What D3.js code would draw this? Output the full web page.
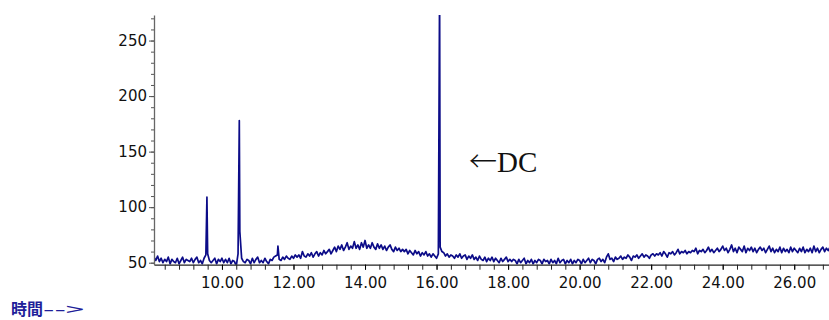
<!DOCTYPE html>
<html>
  <head>
    <meta charset="utf-8">
    <script src="https://d3js.org/d3.v7.min.js"></script>
    <style>
      body { margin: 0; background: #fff; }
      .tick text { font-family: "DejaVu Sans", sans-serif; font-size: 15px; fill: #111; }
    </style>
  </head>
  <body>
    <script>

      // sampling of the trace (minutes)
      var startTime = 8.1;
      var stepTime = 0.05;

      // abundance, one value per sample, rows of 1 minute (8.10 ... 27.00)
      var signal = [
        55,52,56,51,54,50,53,51,55,49,53,51,50,54,49,52,55,50,53,52,
        51,54,50,53,55,50,52,49,54,57,58,52,50,52,54,49,53,51,54,50,
        53,50,54,49,52,51,47,58,78,54,51,50,53,52,49,54,50,53,55,50,
        52,50,54,51,49,53,52,55,56,57,53,52,55,53,56,54,53,56,54,57,
        55,57,54,60,56,55,58,56,59,55,58,60,56,59,57,61,58,60,62,58,
        61,64,60,65,62,66,61,64,68,62,65,63,69,63,66,62,68,64,70,63,
        66,63,68,64,62,67,63,66,62,65,61,64,66,62,60,64,61,63,60,62,
        60,62,58,61,59,57,61,58,60,56,59,57,60,56,58,55,58,56,54,58,
        64,60,59,56,58,55,57,56,54,57,55,58,54,56,57,53,56,54,57,53,
        55,52,56,53,52,55,51,54,52,55,51,54,52,50,54,51,53,55,51,53,
        51,53,52,49,53,50,52,54,49,52,50,53,49,52,50,53,52,49,53,51,
        52,49,53,50,52,49,54,50,52,53,49,52,50,53,49,52,50,53,52,49,
        53,50,52,54,50,53,52,49,53,54,51,53,50,55,58,53,54,51,55,53,
        54,56,53,55,54,57,55,52,56,55,57,54,56,58,55,57,56,54,57,58,
        56,58,57,59,56,60,58,55,59,58,60,57,59,62,58,60,59,61,58,60,
        59,61,60,63,58,61,60,62,59,61,64,60,62,59,61,63,60,62,65,61,
        63,59,62,66,60,63,59,64,62,60,65,59,63,61,64,60,63,59,62,64,
        61,63,59,62,65,60,63,59,62,60,64,59,63,60,62,59,64,60,63,61,
        59,63,60,64,59,62,60,63,59,65,60,63,59,62,64,60,63,61,64
      ];

      // peak apexes, placed between samples
      var peakTimes = [9.58, 10.485, 11.565, 16.085];
      var peakHeights = [109, 178, 65, 300];

      var xMajorTicks = [10, 12, 14, 16, 18, 20, 22, 24, 26];
      var xMinorTicks = d3.range(8.4, 27, 0.4);
      var yMajorTicks = [50, 100, 150, 200, 250];
      var yMinorTicks = d3.range(50, 271, 10);

      var annotationArrow = "←";
      var annotationText = "DC";
      var xLabelWord = "時間";
      var xLabelArrow = "-->";

      var W = 829, H = 320;

      var svg = d3.select("body")
        .append("svg")
        .attr("width", W)
        .attr("height", H);

      var x = d3.scaleLinear()
        .domain([8.1, 27.0])
        .range([154, 830]);

      var y = d3.scaleLinear()
        .domain([48.2, 273])
        .range([264.7, 15]);

      var points = signal.map(function(v, i) {
        return [startTime + i * stepTime, v];
      });
      peakTimes.forEach(function(t, i) {
        points.push([t, peakHeights[i]]);
      });
      points.sort(function(a, b) { return a[0] - b[0]; });

      // clip so the big peak is cut at the top of the frame
      svg.append("clipPath")
        .attr("id", "plot")
        .append("rect")
        .attr("x", 154)
        .attr("y", 15)
        .attr("width", W - 154)
        .attr("height", 264.7 - 15);

      var line = d3.line()
        .x(function(d) { return x(d[0]); })
        .y(function(d) { return y(d[1]); });

      svg.append("path")
        .datum(points)
        .attr("clip-path", "url(#plot)")
        .attr("fill", "none")
        .attr("stroke", "#0c0c88")
        .attr("stroke-width", 1.7)
        .attr("stroke-linejoin", "round")
        .attr("d", line);

      // x axis: minor ticks then labelled ticks
      svg.append("g")
        .attr("transform", "translate(0,264.7)")
        .call(d3.axisBottom(x).tickValues(xMinorTicks).tickSize(5).tickFormat(""))
        .call(function(g) { g.select(".domain").remove(); })
        .selectAll("line").attr("stroke", "#222");

      var xAxis = svg.append("g")
        .attr("transform", "translate(0,264.7)")
        .call(d3.axisBottom(x)
          .tickValues(xMajorTicks)
          .tickSize(5)
          .tickPadding(8)
          .tickSizeOuter(0)
          .tickFormat(d3.format(".2f")));
      xAxis.select(".domain").attr("stroke", "#222").attr("stroke-width", 1.3);

      // y axis
      svg.append("g")
        .attr("transform", "translate(154,0)")
        .call(d3.axisLeft(y).tickValues(yMinorTicks).tickSize(3).tickFormat(""))
        .call(function(g) { g.select(".domain").remove(); })
        .selectAll("line").attr("stroke", "#555");

      var yAxis = svg.append("g")
        .attr("transform", "translate(154,0)")
        .call(d3.axisLeft(y)
          .tickValues(yMajorTicks)
          .tickSize(5)
          .tickPadding(2)
          .tickSizeOuter(0));
      yAxis.select(".domain").attr("stroke", "#666").attr("stroke-width", 1.3);
      yAxis.selectAll("line").attr("stroke", "#555");

      var note = svg.append("text")
        .attr("x", 469)
        .attr("y", 172)
        .style("fill", "#111");
      note.append("tspan")
        .style("font-family", "'Noto Sans CJK JP', sans-serif")
        .style("font-size", "28px")
        .style("font-weight", "300")
        .text(annotationArrow);
      note.append("tspan")
        .style("font-family", "'Liberation Serif', 'DejaVu Serif', serif")
        .style("font-size", "29px")
        .text(annotationText);

      var label = svg.append("text")
        .attr("x", 11)
        .attr("y", 315)
        .style("font-family", "'Noto Sans CJK JP', sans-serif")
        .style("font-size", "16px")
        .style("font-weight", "bold")
        .style("fill", "#1f1f9a");
      label.append("tspan").text(xLabelWord);
      label.append("tspan")
        .attr("textLength", 41)
        .attr("lengthAdjust", "spacingAndGlyphs")
        .style("font-weight", "normal")
        .text(xLabelArrow);

    </script>
  </body>
</html>
